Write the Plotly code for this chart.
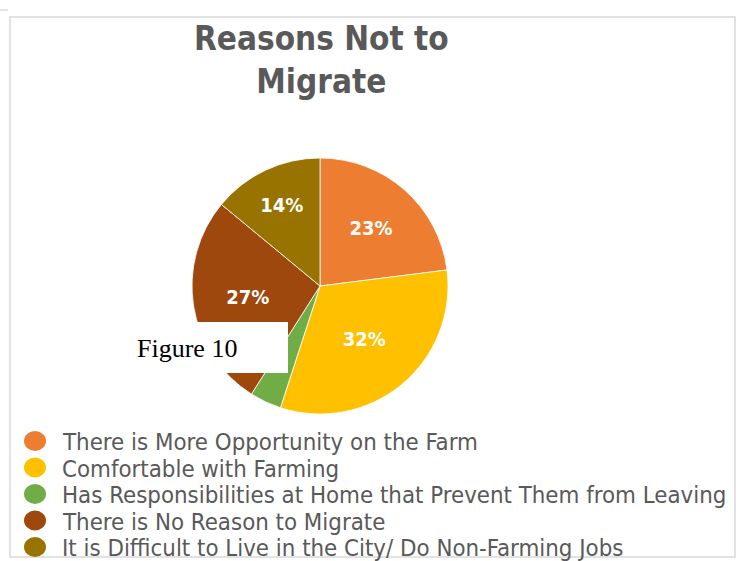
import plotly.graph_objects as go

categories = [
    "There is More Opportunity on the Farm",
    "Comfortable with Farming",
    "Has Responsibilities at Home that Prevent Them from Leaving",
    "There is No Reason to Migrate",
    "It is Difficult to Live in the City/ Do Non-Farming Jobs",
]
values = [23, 32, 4, 27, 14]
labels_text = ["23%", "32%", "", "27%", "14%"]
colors = ["#ED7D31", "#FFC000", "#70AD47", "#9E480E", "#997300"]

W, H = 743, 561
FONT = "DejaVu Sans Condensed"

def px(x):
    return x / W

def py(y):
    return 1 - y / H

fig = go.Figure()
fig.add_trace(go.Pie(
    labels=categories, values=values, text=labels_text,
    textinfo="text", textposition="inside", insidetextorientation="horizontal",
    sort=False, direction="clockwise", rotation=0,
    marker=dict(colors=colors, line=dict(color="white", width=0.8)),
    textfont=dict(family=FONT, size=20, color="white", weight="bold"),
    domain=dict(x=[px(192), px(448)], y=[py(414), py(158)]),
    showlegend=False, hoverinfo="label+percent",
))

annotations = [
    dict(text="Reasons Not to<br>Migrate", x=px(321), y=py(60), xref="paper", yref="paper",
         xanchor="center", yanchor="middle", showarrow=False,
         font=dict(family=FONT, size=33, color="#595959", weight="bold")),
    dict(text="Figure 10", x=px(135), y=py(348), xref="paper", yref="paper",
         xanchor="left", yanchor="middle", showarrow=False,
         font=dict(family="Liberation Serif", size=26, color="black")),
]
shapes = [
    dict(type="rect", xref="paper", yref="paper", x0=px(10), y0=py(557), x1=px(735), y1=py(17),
         line=dict(color="#D9D9D9", width=1.5), layer="above"),
    dict(type="line", xref="paper", yref="paper", x0=0, y0=py(10), x1=px(8), y1=py(10),
         line=dict(color="#D9D9D9", width=1.5)),
    dict(type="rect", xref="paper", yref="paper", x0=px(133), y0=py(373), x1=px(288), y1=py(322),
         fillcolor="white", line=dict(width=0), layer="above"),
]

# legend rows (manual, circle markers)
row0, step = 441, 26.5
for i, (c, col) in enumerate(zip(categories, colors)):
    yc = row0 + i * step
    shapes.append(dict(type="circle", xref="paper", yref="paper",
                       x0=px(24), x1=px(46), y0=py(yc + 10), y1=py(yc - 10),
                       fillcolor=col, line=dict(width=0)))
    annotations.append(dict(text=c, x=px(60), y=py(yc + 1), xref="paper", yref="paper",
                            xanchor="left", yanchor="middle", showarrow=False,
                            font=dict(family=FONT, size=23.8, color="#595959")))

fig.update_layout(
    width=W, height=H,
    margin=dict(l=0, r=0, t=0, b=0),
    paper_bgcolor="white", plot_bgcolor="white",
    showlegend=False,
    annotations=annotations,
    shapes=shapes,
)

fig.write_html("out.html")
